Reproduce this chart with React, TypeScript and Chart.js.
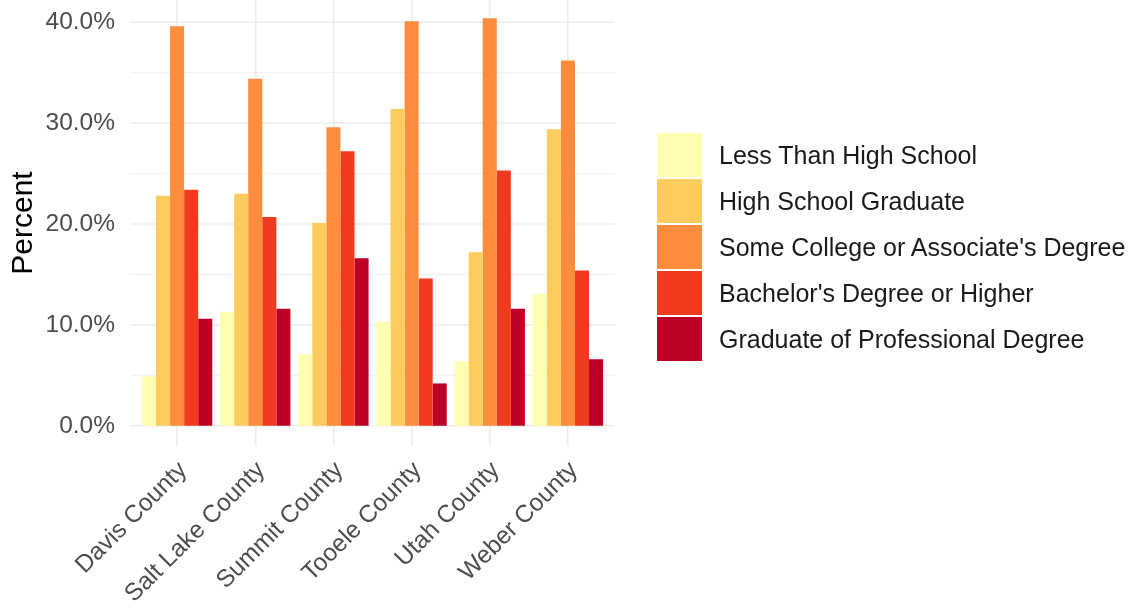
import React, { useEffect, useRef } from 'react';
import { Chart, registerables } from 'chart.js';

Chart.register(...registerables);

const categories = ['Davis County', 'Salt Lake County', 'Summit County', 'Tooele County', 'Utah County', 'Weber County'];
const seriesNames = [
  'Less Than High School',
  'High School Graduate',
  "Some College or Associate's Degree",
  "Bachelor's Degree or Higher",
  'Graduate of Professional Degree',
];
const lessThanHighSchool = [4.9, 11.3, 7.1, 10.3, 6.4, 13.1];
const highSchoolGraduate = [22.8, 23.0, 20.1, 31.4, 17.2, 29.4];
const someCollege = [39.6, 34.4, 29.6, 40.1, 40.4, 36.2];
const bachelors = [23.4, 20.7, 27.2, 14.6, 25.3, 15.4];
const graduateProfessional = [10.6, 11.6, 16.6, 4.2, 11.6, 6.6];
const yTickValues = [0, 10, 20, 30, 40];
const yMinorValues = [5, 15, 25, 35];
const colors = ['#FFFFB2', '#FECC5C', '#FD8D3C', '#F03B20', '#BD0026'];

const FONT = "'Liberation Sans', Arial, Helvetica, sans-serif";

const ggGrid = {
  id: 'ggGrid',
  beforeDatasetsDraw(chart: any) {
    const { ctx, chartArea, scales } = chart;
    const y = scales.y;
    const catW = (chartArea.right - chartArea.left) / categories.length;
    const left = chartArea.left - 0.1 * catW;
    const right = chartArea.right + 0.1 * catW;
    ctx.save();
    ctx.strokeStyle = '#EBEBEB';
    ctx.lineWidth = 0.8;
    for (const v of yMinorValues) {
      const py = y.getPixelForValue(v);
      ctx.beginPath();
      ctx.moveTo(left, py);
      ctx.lineTo(right, py);
      ctx.stroke();
    }
    ctx.lineWidth = 1.5;
    for (const v of yTickValues) {
      const py = y.getPixelForValue(v);
      ctx.beginPath();
      ctx.moveTo(left, py);
      ctx.lineTo(right, py);
      ctx.stroke();
    }
    ctx.restore();
  },
};

export default function App() {
  const canvasRef = useRef<HTMLCanvasElement | null>(null);

  useEffect(() => {
    const canvas = canvasRef.current;
    if (!canvas) return;
    const seriesValues = [lessThanHighSchool, highSchoolGraduate, someCollege, bachelors, graduateProfessional];
    const chart = new Chart(canvas, {
      type: 'bar',
      data: {
        labels: categories,
        datasets: seriesNames.map((name, i) => ({
          label: name,
          data: seriesValues[i],
          backgroundColor: colors[i],
          borderWidth: 0,
          categoryPercentage: 0.9,
          barPercentage: 1.0,
        })),
      },
      options: {
        responsive: false,
        animation: false,
        layout: { padding: { left: 0, right: 528, top: 0, bottom: 0 } },
        plugins: {
          legend: { display: false },
          tooltip: { enabled: false },
        },
        scales: {
          x: {
            offset: true,
            grid: { offset: false, color: '#EBEBEB', lineWidth: 1.5, drawTicks: false },
            border: { display: false },
            ticks: {
              autoSkip: false,
              minRotation: 45,
              maxRotation: 45,
              padding: 10,
              labelOffset: 6,
              color: '#4D4D4D',
              font: { family: FONT, size: 24.5 },
            },
            afterFit(scale: any) {
              scale.height = 162;
              scale.paddingLeft = 0;
              scale.paddingRight = 0;
            },
          },
          y: {
            min: -2.0,
            max: 42.2,
            grid: { display: false, drawTicks: false },
            border: { display: false },
            afterBuildTicks(scale: any) {
              scale.ticks = yTickValues.map((v) => ({ value: v }));
            },
            ticks: {
              padding: 23,
              color: '#4D4D4D',
              font: { family: FONT, size: 24.5 },
              callback: (v: any) => Number(v).toFixed(1) + '%',
            },
            title: {
              display: true,
              text: 'Percent',
              color: '#000000',
              font: { family: FONT, size: 30 },
              padding: { top: 6, bottom: 0 },
            },
            afterFit(scale: any) {
              scale.width = 138;
              scale.paddingTop = 0;
              scale.paddingBottom = 0;
            },
          },
        },
      },
      plugins: [ggGrid],
    });
    return () => chart.destroy();
  }, []);

  return (
    <div style={{ position: 'absolute', left: 0, top: 0, width: 1135, height: 608, background: '#FFFFFF' }}>
      <canvas ref={canvasRef} width={1135} height={608} style={{ display: 'block' }} />
      <div
        style={{
          position: 'absolute',
          left: 657,
          top: 132,
          fontFamily: FONT,
          fontSize: 25,
          color: '#1A1A1A',
        }}
      >
        {seriesNames.map((n, i) => (
          <div key={n} style={{ display: 'flex', alignItems: 'center', height: 46 }}>
            <div style={{ width: 45, height: 44.5, background: colors[i] }} />
            <span style={{ marginLeft: 17, whiteSpace: 'nowrap' }}>{n}</span>
          </div>
        ))}
      </div>
    </div>
  );
}
